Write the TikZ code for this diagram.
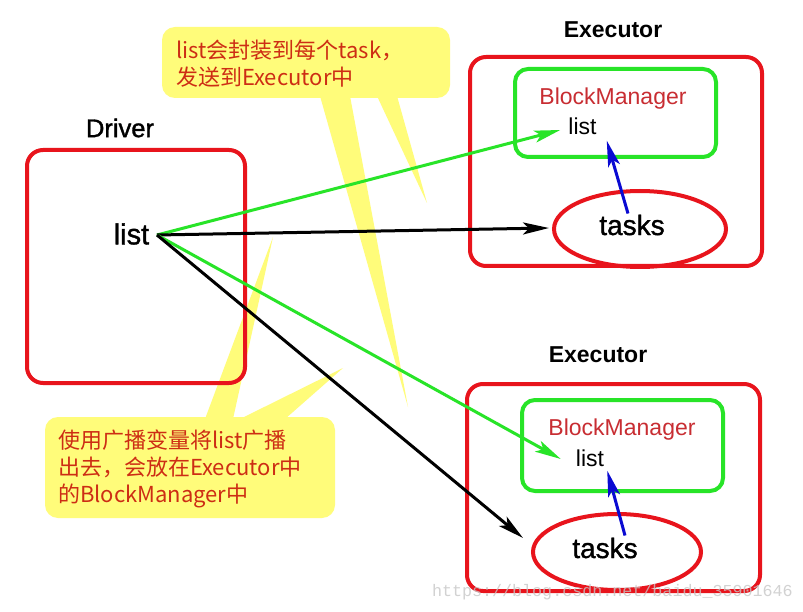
\documentclass[tikz,border=0pt]{standalone}
\usepackage{fontspec}
\setmainfont{Liberation Sans}
\newfontfamily\medfont[FakeBold=1.3]{Liberation Sans}
\newfontfamily\cjk{Noto Sans CJK SC}
\newfontfamily\wmfont{Liberation Mono}
\usetikzlibrary{shapes.geometric,arrows.meta,calc}
\definecolor{boxred}{RGB}{232,20,28}
\definecolor{boxgreen}{RGB}{40,228,40}
\definecolor{calloutyellow}{RGB}{255,252,122}
\definecolor{calltextred}{RGB}{205,45,20}
\definecolor{bmred}{RGB}{200,45,50}
\definecolor{arrowblue}{RGB}{10,10,210}
\begin{document}
\begin{tikzpicture}[x=1pt,y=-1pt,
  redbox/.style={draw=boxred,line width=4pt,rounded corners=16pt,inner sep=0pt},
  greenbox/.style={draw=boxgreen,line width=4pt,rounded corners=13pt,inner sep=0pt},
  taskell/.style={draw=boxred,line width=4pt,ellipse,inner sep=0pt},
  callout/.style={fill=calloutyellow,rounded corners=13pt,inner sep=0pt},
  spike/.style={fill=calloutyellow},
  calltext/.style={font=\cjk\fontsize{22}{27}\selectfont,text=calltextred,align=left,anchor=west,inner sep=0pt},
  title/.style={font=\bfseries\fontsize{23}{26}\selectfont,inner sep=0pt},
  bigtext/.style={font=\medfont\fontsize{28}{31}\selectfont,inner sep=0pt},
  bmtext/.style={font=\fontsize{23}{26}\selectfont,text=bmred,inner sep=0pt},
  smalllist/.style={font=\fontsize{23}{26}\selectfont,inner sep=0pt},
  arr/.style={line width=3pt,-{Stealth[length=26pt,width=12pt,inset=6pt]}},
  blackarr/.style={arr,draw=black},
  greenarr/.style={arr,draw=boxgreen},
  bluearr/.style={arr,draw=arrowblue}]
\useasboundingbox (0,0) rectangle (803,612);
\fill[white] (0,0) rectangle (803,612);

% callout spikes
\fill[spike] (320,96) -- (350,96) -- (408,407) -- cycle;
\fill[spike] (377,96) -- (397,96) -- (427,203) -- cycle;
\fill[spike] (205,419) -- (233,419) -- (273,237) -- cycle;
\fill[spike] (240,419) -- (285,419) -- (343,368) -- cycle;

% callouts
\node[callout,minimum width=288pt,minimum height=71pt] (call1) at (306,62.5) {};
\node[calltext] (call1text) at (176,63.5) {list会封装到每个task，\\发送到Executor中};
\node[callout,minimum width=290pt,minimum height=101pt] (call2) at (190,467.5) {};
\node[calltext] (call2text) at (58,469) {使用广播变量将list广播\\出去，会放在Executor中\\的BlockManager中};

% driver
\node[redbox,minimum width=218pt,minimum height=233pt] (driver) at (136,266.5) {};
\node[font=\medfont\fontsize{25.5}{29}\selectfont,inner sep=0pt] (drivertitle) at (120,128) {Driver};
\node[font=\medfont\fontsize{29}{32}\selectfont,inner sep=0pt] (dlist) at (131.5,234) {list};
\coordinate (src) at (157,235);

% executor 1
\node[title] (ex1title) at (613,30) {Executor};
\node[redbox,minimum width=292pt,minimum height=209pt] (ex1) at (616,161.5) {};
\node[greenbox,minimum width=201pt,minimum height=88pt] (bm1) at (615.5,113) {};
\node[bmtext] (bm1text) at (613,99) {BlockManager};
\node[smalllist] (bl1list) at (582.5,126) {list};
\node[taskell,minimum width=172pt,minimum height=76pt] (task1) at (640,229) {};
\node[bigtext] (tk1) at (632,225) {tasks};

% executor 2
\node[title] (ex2title) at (598,355) {Executor};
\node[redbox,minimum width=293pt,minimum height=207pt] (ex2) at (613.5,487.5) {};
\node[greenbox,minimum width=201pt,minimum height=91pt] (bm2) at (622.5,445.5) {};
\node[bmtext] (bm2text) at (622,430) {BlockManager};
\node[smalllist] (bl2list) at (590,458) {list};
\node[taskell,minimum width=168pt,minimum height=76pt] (task2) at (617,552) {};
\node[bigtext] (tk2) at (605,548) {tasks};

% arrows
\draw[greenarr] (src) -- ($(bl1list.west)+(-8,4)$);
\draw[blackarr] (src) -- ($(task1.west)+(-3,-1)$);
\draw[greenarr] (src) -- ($(bl2list.west)+(-15,1)$);
\draw[blackarr] (src) -- ($(task2.west)+(-8,-14)$);
\draw[bluearr] ($(tk1.north)+(-4,-1)$) -- ($(bl1list.south east)+(10,6)$);
\draw[bluearr] ($(tk2.north)+(20,-2)$) -- ($(bl2list.south east)+(3,4)$);

% watermark
\node[font=\wmfont\fontsize{16.7}{18}\selectfont,text=black!22,text opacity=0.8,anchor=east,inner sep=0pt] (wm) at (793,592) {https://blog.csdn.net/baidu\_35901646};
\end{tikzpicture}
\end{document}
